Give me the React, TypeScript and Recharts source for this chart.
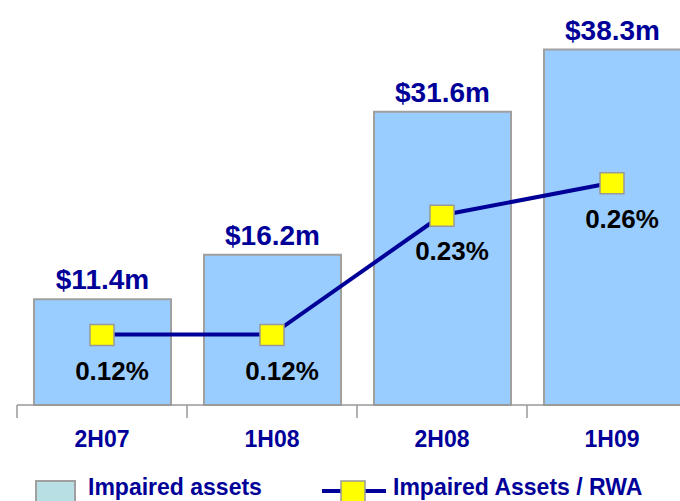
import { Bar, ComposedChart, LabelList, Line, XAxis, YAxis } from "recharts";

const periods = ["2H07", "1H08", "2H08", "1H09"];
const impairedAssets = [11.4, 16.2, 31.6, 38.3]; // $m
const impairedToRwa = [0.12, 0.12, 0.23, 0.26]; // %

const NAVY = "#000099";
const FONT = '"Liberation Sans", Arial, sans-serif';

const data = periods.map((p, i) => ({
  period: p,
  assets: impairedAssets[i],
  ratio: impairedToRwa[i],
}));

function SquareDot(props: any) {
  const { cx, cy } = props;
  if (cx == null || cy == null) return null;
  return (
    <rect x={cx - 12} y={cy - 10} width={24} height={21} fill="#FFFF00" stroke="#999999" strokeWidth={1.5} />
  );
}

function PeriodTick(props: any) {
  const { x, y, payload } = props;
  const half = payload?.offset ?? 85;
  return (
    <g>
      <line x1={x - half} y1={y - 8} x2={x - half} y2={y + 5} stroke="#999999" strokeWidth={1.5} />
      <text x={x} y={y + 34} textAnchor="middle" fill={NAVY} fontSize={23} fontWeight="bold" fontFamily={FONT}>
        {payload.value}
      </text>
    </g>
  );
}

function RatioLabel(props: any) {
  const { x, y, value } = props;
  return (
    <text x={x + 10} y={y + 45} textAnchor="middle" fill="#000000" fontSize={26} fontWeight="bold" fontFamily={FONT}>
      {`${Number(value).toFixed(2)}%`}
    </text>
  );
}

export default function App() {
  return (
    <div style={{ position: "absolute", left: 0, top: 0, width: 680, height: 501, overflow: "hidden", background: "#fff" }}>
      <ComposedChart width={700} height={501} data={data} margin={{ top: 6, right: 3, left: 17, bottom: 56 }}>
        <XAxis
          dataKey="period"
          height={40}
          axisLine={{ stroke: "#999999", strokeWidth: 1.5 }}
          tickLine={false}
          tick={<PeriodTick />}
          interval={0}
        />
        <YAxis yAxisId="l" hide domain={[0, 43]} />
        <YAxis yAxisId="r" hide orientation="right" domain={[0.055, 0.423]} allowDataOverflow />
        <Bar yAxisId="l" dataKey="assets" fill="#99CCFF" stroke="#A0A0A0" strokeWidth={2} barSize={137} isAnimationActive={false}>
          <LabelList
            dataKey="assets"
            position="top"
            offset={10}
            formatter={(v: any) => `$${v}m`}
            style={{ fill: NAVY, fontSize: 28, fontWeight: "bold", fontFamily: FONT }}
          />
        </Bar>
        <Line
          yAxisId="r"
          dataKey="ratio"
          type="linear"
          stroke={NAVY}
          strokeWidth={4}
          dot={<SquareDot />}
          activeDot={false}
          isAnimationActive={false}
        >
          <LabelList dataKey="ratio" content={<RatioLabel />} />
        </Line>
      </ComposedChart>
      <svg width={680} height={40} style={{ position: "absolute", left: 0, top: 470 }}>
        <rect x={36} y={11} width={39} height={30} fill="#B8E0E4" stroke="#A0A0A0" strokeWidth={2} />
        <text x={88} y={25} fill={NAVY} fontSize={23} fontWeight="bold" fontFamily={FONT}>
          Impaired assets
        </text>
        <line x1={322} y1={21} x2={386} y2={21} stroke={NAVY} strokeWidth={4} />
        <rect x={341} y={11} width={24} height={21} fill="#FFFF00" stroke="#999999" strokeWidth={1.5} />
        <text x={393} y={25} fill={NAVY} fontSize={23} fontWeight="bold" fontFamily={FONT}>
          Impaired Assets / RWA
        </text>
      </svg>
    </div>
  );
}
